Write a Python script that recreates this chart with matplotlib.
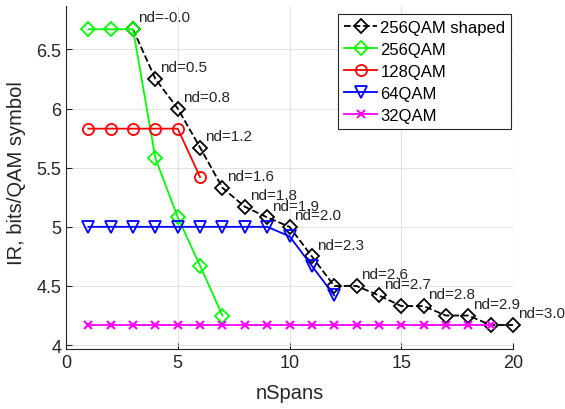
import numpy as np
import matplotlib.pyplot as plt

plt.rcParams['font.family'] = ['Liberation Sans', 'DejaVu Sans']

# Information rate vs number of spans
spans_shaped = [3, 4, 5, 6, 7, 8, 9, 10, 11, 12, 13, 14, 15, 16, 17, 18, 19, 20]
ir_shaped = [6.67, 6.25, 6.0, 5.67, 5.33, 5.17, 5.08, 5.0, 4.75, 4.5,
             4.5, 4.42, 4.33, 4.33, 4.25, 4.25, 4.17, 4.17]
nd_shaped = ['-0.0', '0.5', '0.8', '1.2', '1.6', '1.8', '1.9', '2.0', '2.3', '',
             '2.6', '2.7', '', '2.8', '', '2.9', '', '3.0']

spans_256 = [1, 2, 3, 4, 5, 6, 7]
ir_256 = [6.67, 6.67, 6.67, 5.58, 5.08, 4.67, 4.25]

spans_128 = [1, 2, 3, 4, 5, 6]
ir_128 = [5.83, 5.83, 5.83, 5.83, 5.83, 5.42]

spans_64 = [1, 2, 3, 4, 5, 6, 7, 8, 9, 10, 11, 12]
ir_64 = [5.0, 5.0, 5.0, 5.0, 5.0, 5.0, 5.0, 5.0, 5.0, 4.92, 4.67, 4.42]

spans_32 = [1, 2, 3, 4, 5, 6, 7, 8, 9, 10, 11, 12, 13, 14, 15, 16, 17, 18, 19]
ir_32 = [4.17, 4.17, 4.17, 4.17, 4.17, 4.17, 4.17, 4.17, 4.17, 4.17,
         4.17, 4.17, 4.17, 4.17, 4.17, 4.17, 4.17, 4.17, 4.17]

dark = '#262626'

fig = plt.figure(figsize=(5.65, 4.1), dpi=100)
ax = fig.add_axes([66 / 565, 60 / 410, 447 / 565, 343 / 410])

ax.plot(spans_shaped, ir_shaped, '--D', color='k', mfc='none', ms=7, mew=1.3, lw=1.3,
        label='256QAM shaped', clip_on=False)
ax.plot(spans_256, ir_256, '-D', color=(0, 1, 0), mfc='none', ms=7, mew=1.3, lw=1.3,
        label='256QAM', clip_on=False)
ax.plot(spans_128, ir_128, '-o', color=(1, 0, 0), mfc='none', ms=8, mew=1.3, lw=1.3,
        label='128QAM', clip_on=False)
ax.plot(spans_64, ir_64, '-v', color=(0, 0, 1), mfc='none', ms=9, mew=1.3, lw=1.3,
        label='64QAM', clip_on=False)
ax.plot(spans_32, ir_32, '-x', color=(1, 0, 1), ms=6, mew=1.5, lw=1.3,
        label='32QAM', clip_on=False)

for x, y, s in zip(spans_shaped, ir_shaped, nd_shaped):
    if s:
        ax.annotate(f'nd={s}', (x, y), xytext=(3.5, 8.5), textcoords='offset points',
                    ha='left', va='center', fontsize=11, color=dark)

ax.set_xlim(0, 20)
ax.set_ylim(3.967, 6.867)
ax.set_xticks([0, 5, 10, 15, 20])
ax.set_yticks([4, 4.5, 5, 5.5, 6, 6.5])
ax.set_yticklabels(['4', '4.5', '5', '5.5', '6', '6.5'])
ax.tick_params(direction='in', length=4, width=0.8, colors=dark, labelsize=13)
for side in ['top', 'right']:
    ax.spines[side].set_visible(False)
for side in ['left', 'bottom']:
    ax.spines[side].set_color(dark)
    ax.spines[side].set_linewidth(0.8)
ax.grid(True, color='#e3e3e3', lw=0.8)
ax.set_axisbelow(True)

ax.set_xlabel('nSpans', fontsize=14.5, color=dark, labelpad=9)
ax.set_ylabel('IR, bits/QAM symbol', fontsize=14.5, color=dark)
ax.yaxis.set_label_coords(-0.09, 0.515)

leg = ax.legend(loc='upper left', bbox_to_anchor=(338 / 565, 395 / 410),
                bbox_transform=fig.transFigure, fontsize=12, fancybox=False,
                edgecolor=dark, framealpha=1, borderpad=0.35, labelspacing=0.42,
                handlelength=2.0, handletextpad=0.2, borderaxespad=0)
leg.get_frame().set_linewidth(0.8)

plt.savefig('out.png', dpi=100)
